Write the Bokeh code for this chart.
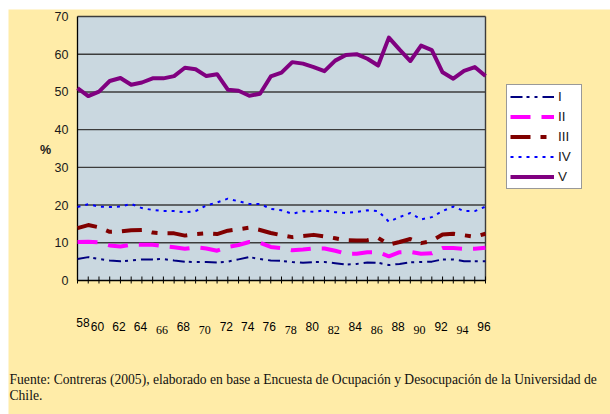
from bokeh.plotting import figure
from bokeh.models import (Range1d, Legend, LegendItem, Label, LabelSet,
                          ColumnDataSource, BoxAnnotation)
from bokeh.core.properties import value, field
from bokeh.embed import file_html
from bokeh.resources import INLINE

# ---------------- data ----------------
years = [1958, 1959, 1960, 1961, 1962, 1963, 1964, 1965, 1966, 1967,
         1968, 1969, 1970, 1971, 1972, 1973, 1974, 1975, 1976, 1977,
         1978, 1979, 1980, 1981, 1982, 1983, 1984, 1985, 1986, 1987,
         1988, 1989, 1990, 1991, 1992, 1993, 1994, 1995, 1996]

s_I = [5.7, 6.2, 5.7, 5.3, 5.1, 5.3, 5.6, 5.6, 5.7, 5.3,
       5.0, 4.9, 4.9, 4.8, 5.0, 5.6, 6.2, 5.7, 5.3, 5.2,
       4.9, 4.7, 4.9, 4.9, 4.6, 4.2, 4.4, 4.8, 4.7, 4.1,
       4.4, 4.8, 4.9, 5.0, 5.6, 5.6, 5.1, 5.1, 5.1]

s_II = [10.2, 10.3, 10.1, 9.3, 9.0, 9.5, 9.5, 9.5, 9.1, 8.8,
        8.4, 8.8, 8.5, 7.9, 8.9, 9.4, 10.2, 10.0, 8.9, 8.6,
        8.0, 8.2, 8.5, 8.5, 7.9, 7.1, 7.1, 7.5, 7.5, 6.4,
        7.5, 7.6, 7.1, 7.2, 8.6, 8.6, 8.4, 8.4, 8.7]

s_III = [13.9, 14.7, 14.1, 12.9, 13.0, 13.3, 13.4, 12.7, 12.5, 12.5,
         11.9, 12.3, 12.5, 12.3, 13.2, 13.6, 14.0, 13.4, 12.6, 12.0,
         11.5, 11.8, 12.1, 11.7, 11.2, 10.7, 10.6, 10.7, 11.3, 9.5,
         10.2, 11.0, 9.9, 10.5, 12.2, 12.4, 12.0, 11.6, 12.4]

s_IV = [19.5, 20.2, 19.6, 19.5, 19.6, 20.3, 19.2, 18.7, 18.4, 18.4,
        18.1, 18.4, 19.9, 20.7, 21.7, 21.0, 20.3, 20.3, 19.0, 18.6,
        17.7, 18.4, 18.2, 18.6, 18.1, 17.9, 18.2, 18.6, 18.4, 15.6,
        16.8, 17.9, 16.2, 16.8, 18.4, 19.6, 18.4, 18.4, 19.6]

s_V = [51.0, 48.9, 50.1, 52.9, 53.7, 51.9, 52.5, 53.6, 53.6, 54.2,
       56.4, 56.0, 54.2, 54.7, 50.6, 50.3, 49.0, 49.5, 54.1, 55.1,
       57.9, 57.5, 56.6, 55.5, 58.3, 59.8, 60.0, 58.8, 57.0, 64.4,
       61.2, 58.2, 62.3, 61.1, 55.2, 53.5, 55.6, 56.6, 54.2]

series_names = ["I", "II", "III", "IV", "V"]

y_ticks = [0, 10, 20, 30, 40, 50, 60, 70]
y_tick_labels = ["0", "10", "20", "30", "40", "50", "60", "70"]

year_label_pos = [1958, 1960, 1962, 1964, 1966, 1968, 1970, 1972, 1974, 1976,
                  1978, 1980, 1982, 1984, 1986, 1988, 1990, 1992, 1994, 1996]
year_label_text = ["58", "60", "62", "64", "66", "68", "70", "72", "74", "76",
                   "78", "80", "82", "84", "86", "88", "90", "92", "94", "96"]
year_label_style = ["raised", "sans", "sans", "sans", "serif", "sans", "serif",
                    "sans", "sans", "sans", "serif", "sans", "serif", "sans",
                    "serif", "sans", "serif", "sans", "serif", "sans"]

y_title = "%"
source_text = ("Fuente:  Contreras (2005), elaborado en base a Encuesta de "
               "Ocupación y Desocupación de la Universidad de")
source_text2 = "Chile."

# ---------------- styles / layout ----------------
YELLOW = "#FFECA8"
PLOT_BG = "#CAD8E0"
GRID = "#3c3c3c"
SANS = "Liberation Sans"
SERIF = "Liberation Serif"

W, H = 610, 414
PX_LEFT, PX_RIGHT = 77, 485      # canvas px of first / last year
PX_ZERO, PX_TOP = 280, 16        # canvas px of y=0 / y=70
Y_MAX = y_ticks[-1]

kx = (years[-1] - years[0]) / (PX_RIGHT - PX_LEFT)
ky = Y_MAX / (PX_ZERO - PX_TOP)


def X(px):
    return years[0] + (px - PX_LEFT) * kx


def Y(py):
    return (PX_ZERO - py) * ky


styles = {
    "I":   dict(color="#000080", width=2, dash="12 4 3 5 3 5"),
    "II":  dict(color="#FF00FF", width=4, dash="20 11"),
    "III": dict(color="#800000", width=4, dash="20 10 6 10"),
    "IV":  dict(color="#0000FF", width=2, dash="3 5"),
    "V":   dict(color="#800080", width=4, dash="solid"),
}

label_styles = {
    "sans":   dict(font=SANS, size="12px", dx=-1.5, dy=-50.7),
    "serif":  dict(font=SERIF, size="12px", dx=-1.5, dy=-53.3),
    "raised": dict(font=SANS, size="12px", dx=5.5, dy=-46.7),
}

p = figure(width=W, height=H, output_backend="svg", toolbar_location=None,
           x_axis_type=None, y_axis_type=None,
           x_range=Range1d(X(0), X(W)), y_range=Range1d(Y(H), Y(0)),
           min_border_left=0, min_border_right=0, min_border_top=0,
           min_border_bottom=0)
p.background_fill_color = "white"
p.border_fill_color = "white"
p.outline_line_color = None
p.grid.visible = False

# yellow page area and plot area
p.add_layout(BoxAnnotation(left=X(8), right=X(W), bottom=Y(H), top=Y(9),
                           fill_color=YELLOW, fill_alpha=1, line_color=None,
                           level="underlay"))
p.add_layout(BoxAnnotation(left=years[0], right=years[-1], bottom=0, top=Y_MAX,
                           fill_color=PLOT_BG, fill_alpha=1, line_color=None,
                           level="underlay"))

# horizontal grid lines
p.segment(x0=[years[0]] * (len(y_ticks) - 1), x1=[years[-1]] * (len(y_ticks) - 1),
          y0=y_ticks[1:], y1=y_ticks[1:], line_color=GRID, line_width=1.4)
# right border
p.segment(x0=[years[-1]], x1=[years[-1]], y0=[0], y1=[Y_MAX],
          line_color=GRID, line_width=1.4)

# x tick marks (cross the axis)
p.segment(x0=years, x1=years, y0=[Y(PX_ZERO + 3)] * len(years),
          y1=[Y(PX_ZERO - 4)] * len(years), line_color="black", line_width=1)
# axes lines
p.segment(x0=[years[0]], x1=[years[-1]], y0=[0], y1=[0],
          line_color="black", line_width=1.3)
p.segment(x0=[years[0]], x1=[years[0]], y0=[0], y1=[Y_MAX],
          line_color="black", line_width=1.3)

# y tick labels
p.text(x=[years[0]] * len(y_ticks), y=y_ticks, text=y_tick_labels,
       x_offset=-9, text_align="right", text_baseline="middle",
       text_font=value(SANS), text_font_size=value("12.5px"),
       text_color="#1a1a1a")

all_series = [s_I, s_II, s_III, s_IV, s_V]
items = []
for name, vals in zip(series_names, all_series):
    st = styles[name]
    r = p.line(years, vals, line_color=st["color"], line_width=st["width"],
               line_dash=st["dash"], line_join="round", line_cap="butt")
    items.append(LegendItem(label=name, renderers=[r]))

legend = Legend(items=items, location=(506, H - 189), orientation="vertical",
                background_fill_color="white", background_fill_alpha=1,
                border_line_color="#333333", border_line_width=1,
                glyph_width=44, glyph_height=17, label_height=17,
                label_standoff=4, spacing=3, padding=3, margin=0,
                label_text_font=SANS, label_text_font_size="13.5px",
                label_text_color="#222222")
p.add_layout(legend, "center")

# "%" title
p.add_layout(Label(x=X(45), y=Y(149), text=y_title, text_font=SANS,
                   text_font_size="12.5px", text_font_style="bold",
                   text_align="center", text_baseline="middle",
                   text_color="#1a1a1a"))

# year labels below the axis
lab_src = ColumnDataSource(dict(
    x=year_label_pos,
    y=[0] * len(year_label_pos),
    text=year_label_text,
    font=[label_styles[s]["font"] for s in year_label_style],
    size=[label_styles[s]["size"] for s in year_label_style],
    dx=[label_styles[s]["dx"] for s in year_label_style],
    dy=[label_styles[s]["dy"] for s in year_label_style],
))
p.add_layout(LabelSet(x="x", y="y", text="text", source=lab_src,
                      x_offset=field("dx"), y_offset=field("dy"),
                      text_font=field("font"), text_font_size=field("size"),
                      text_align="center", text_baseline="alphabetic",
                      text_color="black"))

# source note
p.add_layout(Label(x=X(9), y=Y(379), text=source_text, text_font=SERIF,
                   text_font_size="13.6px", text_align="left",
                   text_baseline="alphabetic", text_color="#111111"))
p.add_layout(Label(x=X(9), y=Y(395), text=source_text2, text_font=SERIF,
                   text_font_size="13.6px", text_align="left",
                   text_baseline="alphabetic", text_color="#111111"))

open("out.html", "w").write(file_html(p, INLINE))
